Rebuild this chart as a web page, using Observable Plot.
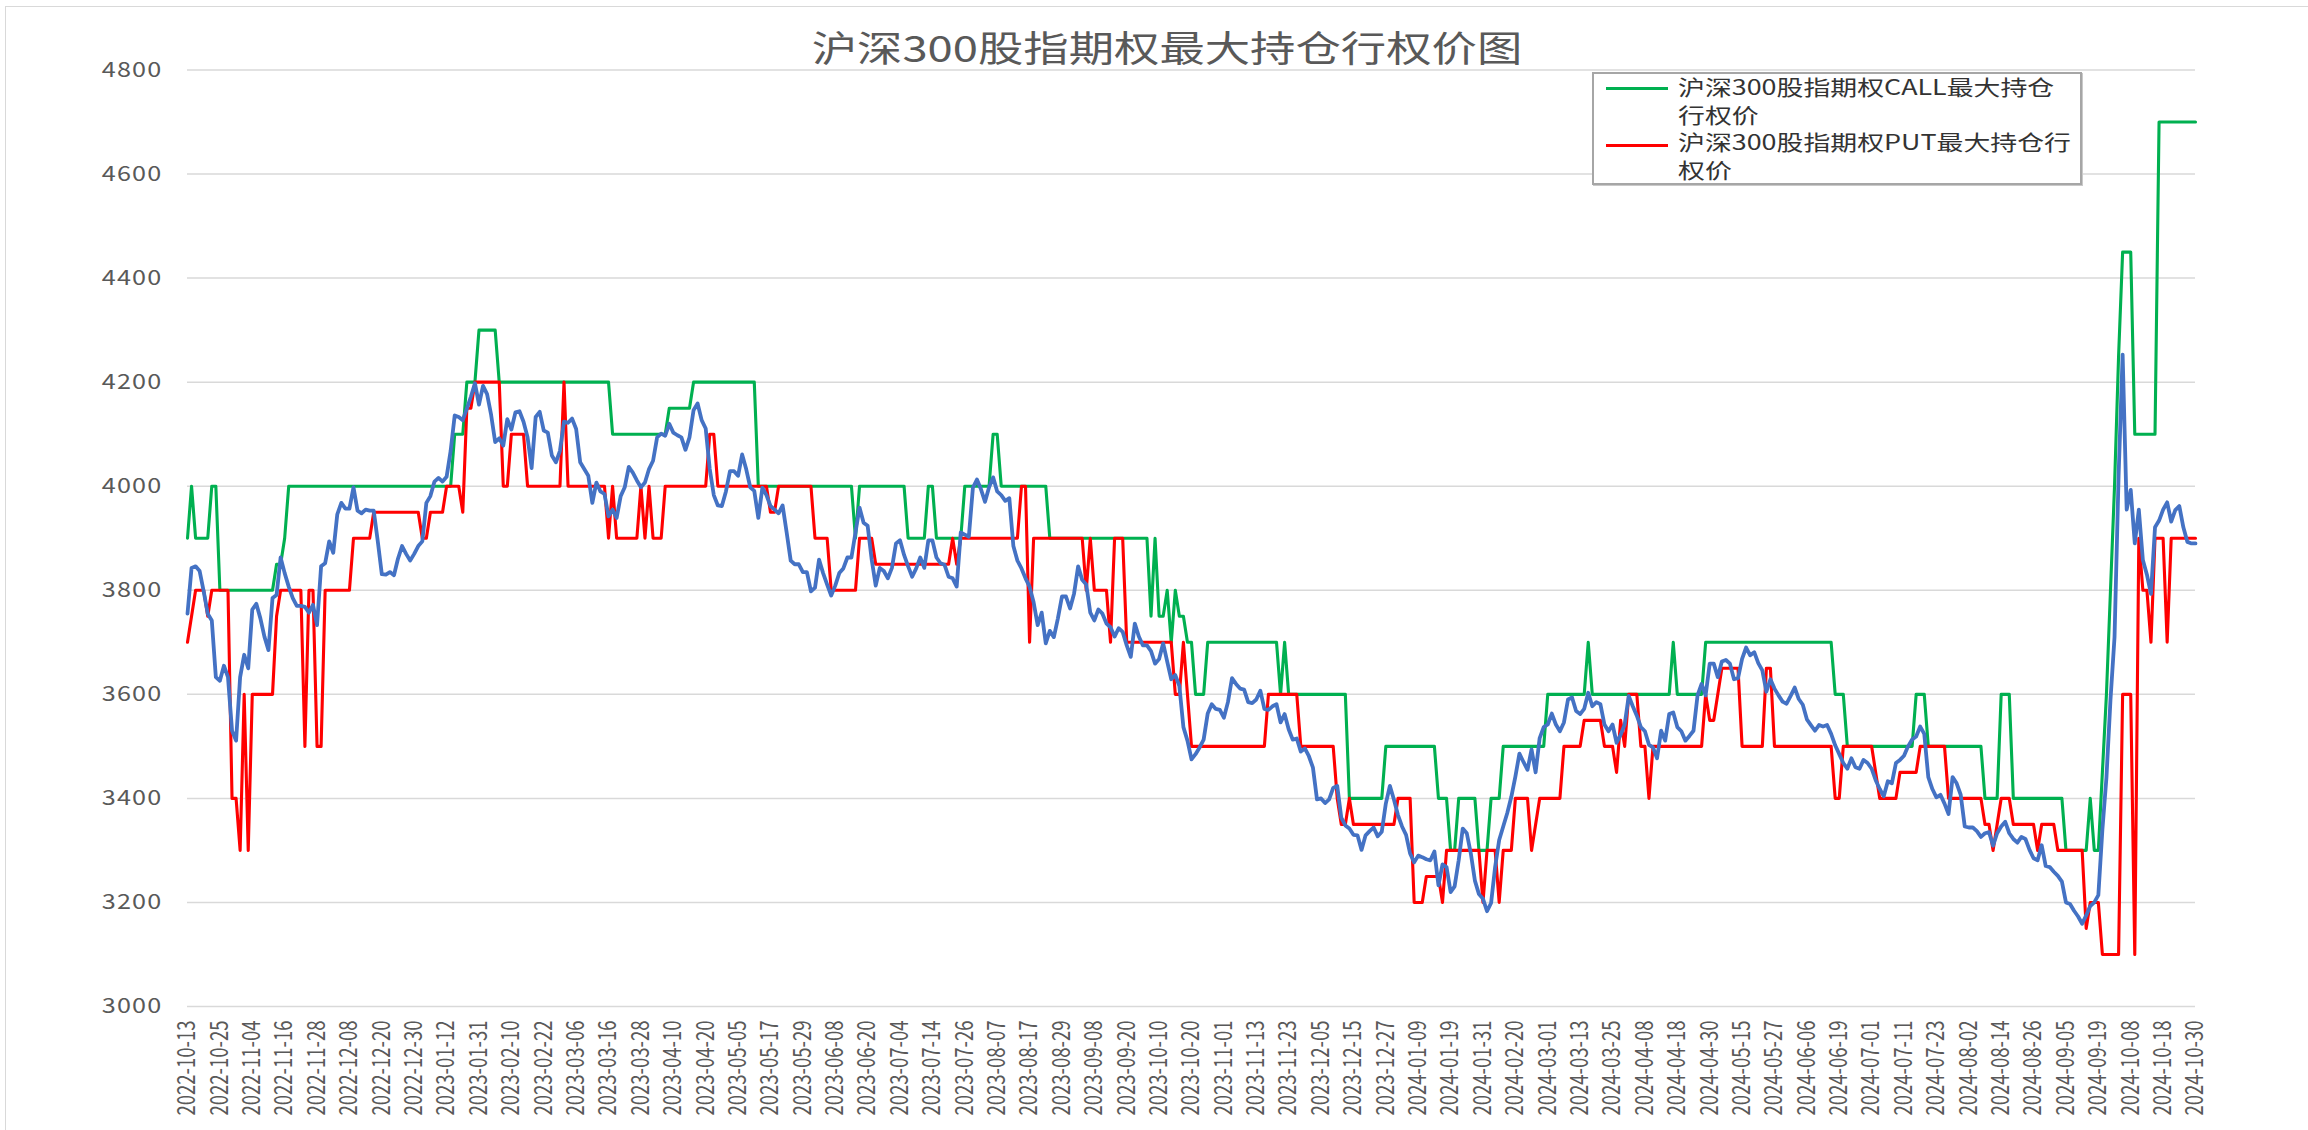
<!DOCTYPE html>
<html>
<head>
<meta charset="utf-8">
<script src="https://cdn.jsdelivr.net/npm/d3@7"></script>
<script src="https://cdn.jsdelivr.net/npm/@observablehq/plot@0.6"></script>
<style>
  html, body { margin: 0; padding: 0; background: #ffffff; }
  #wrap { position: relative; width: 2308px; height: 1130px; overflow: hidden; background: #ffffff;
          font-family: "Noto Sans CJK SC", "Noto Sans", sans-serif; }
  #chart { position: absolute; left: 0; top: 0; }
  #title { position: absolute; left: 567px; top: 24px; width: 1200px; text-align: center;
           font-size: 36px; line-height: 44px; color: #595959; transform: scaleX(1.26); transform-origin: 50% 50%;
           white-space: nowrap; }
  #legend { position: absolute; left: 1592px; top: 72px; width: 490px; height: 113px; box-sizing: border-box;
            border: 2px solid #a6a6a6; box-shadow: 1px 1px 0 #c9c9c9; background: #ffffff; overflow: hidden; }
  .sw { position: absolute; left: 12px; width: 62px; height: 3px; }
  .lt { position: absolute; left: 84px; font-size: 21px; line-height: 25px; color: #333333; white-space: nowrap;
        transform: scaleX(1.28); transform-origin: 0 50%; }
  #frame { position: absolute; left: 5px; top: 6px; width: 2400px; height: 1200px; border-top: 1.5px solid #d9d9d9; border-left: 1.5px solid #d9d9d9; }
</style>
</head>
<body>
<div id="wrap">
  <div id="frame"></div>
  <div id="chart"></div>
  <div id="title"></div>
  <div id="legend"></div>
</div>
<script>
// ---------- data ----------
const titleText = "沪深300股指期权最大持仓行权价图";
const callName = ["沪深300股指期权CALL最大持仓", "行权价"];
const putName = ["沪深300股指期权PUT最大持仓行", "权价"];

// x-axis labels: one every 8 trading days
const tickLabels = ["2022-10-13","2022-10-25","2022-11-04","2022-11-16","2022-11-28","2022-12-08","2022-12-20","2022-12-30",
"2023-01-12","2023-01-31","2023-02-10","2023-02-22","2023-03-06","2023-03-16","2023-03-28","2023-04-10","2023-04-20",
"2023-05-05","2023-05-17","2023-05-29","2023-06-08","2023-06-20","2023-07-04","2023-07-14","2023-07-26","2023-08-07",
"2023-08-17","2023-08-29","2023-09-08","2023-09-20","2023-10-10","2023-10-20","2023-11-01","2023-11-13","2023-11-23",
"2023-12-05","2023-12-15","2023-12-27","2024-01-09","2024-01-19","2024-01-31","2024-02-20","2024-03-01","2024-03-13",
"2024-03-25","2024-04-08","2024-04-18","2024-04-30","2024-05-15","2024-05-27","2024-06-06","2024-06-19","2024-07-01",
"2024-07-11","2024-07-23","2024-08-02","2024-08-14","2024-08-26","2024-09-05","2024-09-19","2024-10-08","2024-10-18","2024-10-30"];

const yTicks = [3000,3200,3400,3600,3800,4000,4200,4400,4600,4800];

// CALL max-open-interest strike, as runs [strike, number of trading days]
const callRuns = [[3900,1],[4000,1],[3900,4],[4000,2],[3800,14],[3850,2],[3900,1],[4000,41],[4100,3],[4200,3],[4300,5],
[4200,28],[4100,14],[4150,6],[4200,16],[4000,24],[3900,1],[4000,12],[3900,5],[4000,2],[3900,7],[4000,7],[4100,2],[4000,12],
[3900,25],[3750,1],[3900,1],[3750,2],[3800,1],[3700,1],[3800,1],[3750,2],[3700,2],[3600,3],[3700,18],[3600,1],[3700,1],
[3600,15],[3400,9],[3500,13],[3400,3],[3300,2],[3400,5],[3300,3],[3400,3],[3500,11],[3600,10],[3700,1],[3600,20],[3700,1],
[3600,7],[3700,32],[3600,3],[3500,17],[3600,3],[3500,14],[3400,4],[3600,3],[3400,13],[3300,6],[3400,1],[3300,2],[3450,1],
[3600,1],[3800,1],[4000,1],[4250,1],[4450,3],[4100,6],[4700,10]];

// PUT max-open-interest strike, as runs [strike, number of trading days]
const putRuns = [[3700,1],[3750,1],[3800,3],[3750,1],[3800,5],[3400,2],[3300,1],[3600,1],[3300,1],[3600,6],[3750,1],[3800,6],
[3500,1],[3800,2],[3500,2],[3800,7],[3900,5],[3950,12],[3900,2],[3950,4],[4000,4],[3950,1],[4150,2],[4200,7],[4000,2],[4100,4],
[4000,9],[4200,1],[4000,10],[3900,1],[4000,1],[3900,6],[4000,1],[3900,1],[4000,1],[3900,3],[4000,11],[4100,2],[4000,13],
[3950,2],[4000,9],[3900,4],[3800,7],[3900,4],[3850,19],[3900,1],[3850,1],[3900,15],[4000,2],[3700,1],[3900,13],[3800,1],
[3900,1],[3800,4],[3700,1],[3900,3],[3700,12],[3600,2],[3700,1],[3600,1],[3500,19],[3600,8],[3500,9],[3400,1],[3350,2],
[3400,1],[3350,11],[3400,4],[3200,3],[3250,4],[3200,1],[3300,9],[3200,1],[3300,3],[3200,1],[3300,3],[3400,4],[3300,1],
[3350,1],[3400,6],[3500,5],[3550,5],[3500,3],[3450,1],[3550,1],[3500,1],[3600,3],[3500,2],[3400,1],[3500,13],[3600,1],
[3550,2],[3600,1],[3650,5],[3500,6],[3650,2],[3500,15],[3400,2],[3500,8],[3450,1],[3400,5],[3450,5],[3500,7],[3400,9],
[3350,2],[3300,1],[3350,1],[3400,3],[3350,6],[3300,1],[3350,4],[3300,7],[3150,1],[3200,3],[3100,5],[3600,3],[3100,1],
[3900,1],[3800,2],[3700,1],[3900,3],[3700,1],[3900,7]];

// CSI 300 index close (blue, one value per trading day)
const indexClose = [
3755,3843,3846,3837,3798,3755,3742,3633,3626,3655,
3633,3530,3511,3633,3676,3650,3763,3774,3746,3711,
3685,3785,3791,3863,3833,3807,3785,3770,3770,3768,
3757,3772,3733,3846,3852,3894,3872,3946,3968,3957,
3957,3998,3953,3948,3955,3953,3953,3894,3831,3830,
3835,3829,3861,3885,3870,3857,3870,3885,3894,3968,
3981,4009,4016,4009,4018,4068,4136,4133,4127,4149,
4172,4198,4157,4193,4177,4137,4085,4092,4078,4129,
4109,4142,4144,4124,4094,4035,4133,4143,4107,4103,
4059,4046,4068,4124,4122,4130,4110,4046,4033,4020,
3968,4007,3990,3985,3942,3955,3939,3981,3998,4037,
4026,4011,3998,4007,4033,4049,4094,4101,4097,4120,
4103,4098,4094,4070,4094,4146,4159,4127,4111,4033,
3983,3963,3962,3990,4029,4029,4020,4061,4033,3998,
3991,3939,3997,3983,3962,3955,3948,3963,3911,3857,
3850,3850,3835,3835,3798,3805,3859,3833,3811,3790,
3809,3833,3842,3863,3863,3911,3959,3930,3924,3859,
3809,3843,3837,3823,3843,3890,3896,3868,3846,3826,
3842,3863,3843,3896,3896,3863,3852,3849,3826,3823,
3807,3911,3907,3903,3997,4013,3994,3970,3998,4017,
3990,3983,3972,3977,3885,3857,3842,3823,3807,3777,
3733,3757,3698,3722,3710,3746,3788,3788,3765,3794,
3846,3820,3811,3757,3742,3763,3755,3736,3729,3711,
3727,3720,3694,3672,3736,3711,3694,3694,3683,3659,
3668,3698,3663,3629,3637,3616,3537,3511,3475,3485,
3498,3513,3563,3581,3572,3570,3555,3585,3631,3620,
3611,3609,3585,3583,3590,3607,3572,3570,3577,3581,
3546,3562,3533,3513,3515,3490,3496,3481,3459,3398,
3400,3391,3398,3420,3424,3363,3348,3342,3330,3329,
3301,3329,3337,3344,3327,3336,3390,3424,3398,3368,
3346,3330,3294,3277,3290,3287,3283,3281,3298,3233,
3273,3268,3220,3231,3281,3342,3333,3294,3242,3216,
3207,3183,3199,3268,3320,3346,3372,3403,3442,3486,
3470,3455,3494,3450,3516,3537,3542,3563,3542,3529,
3546,3590,3594,3568,3562,3572,3603,3577,3585,3581,
3542,3529,3542,3507,3522,3542,3597,3577,3559,3537,
3529,3503,3498,3477,3530,3511,3562,3565,3537,3529,
3511,3520,3530,3598,3620,3598,3659,3659,3633,3663,
3666,3659,3629,3631,3668,3690,3675,3681,3660,3646,
3605,3629,3611,3598,3586,3582,3597,3613,3591,3580,
3552,3541,3530,3541,3538,3541,3524,3502,3485,3468,
3457,3477,3460,3457,3474,3468,3457,3435,3418,3404,
3433,3429,3468,3474,3482,3500,3513,3519,3538,3524,
3441,3418,3402,3407,3390,3370,3441,3429,3407,3346,
3344,3344,3337,3326,3333,3335,3309,3333,3346,3355,
3333,3322,3315,3326,3322,3301,3285,3281,3310,3270,
3268,3259,3251,3240,3200,3197,3184,3173,3159,3175,
3193,3200,3214,3340,3440,3590,3710,4020,4253,3955,
3993,3890,3955,3858,3830,3793,3921,3934,3955,3969,
3932,3954,3962,3921,3893,3890,3890];

// ---------- build ----------
function expandRuns(runs) {
  const out = [];
  for (const [v, n] of runs) for (let k = 0; k < n; k++) out.push(v);
  return out;
}
const callStrike = expandRuns(callRuns);
const putStrike = expandRuns(putRuns);
const rows = indexClose.map((c, i) => ({i, call: callStrike[i], put: putStrike[i], close: c}));
const lastIdx = indexClose.length - 1;
const xTicks = tickLabels.map((d, k) => k * 8);
const FONT = '"Noto Sans CJK SC", "Noto Sans", sans-serif';

const chart = Plot.plot({
  width: 2308,
  height: 1130,
  marginLeft: 187,
  marginRight: 113,
  marginTop: 69.5,
  marginBottom: 124,
  style: {background: "transparent", fontFamily: FONT, color: "#595959", overflow: "visible"},
  x: {type: "linear", domain: [0, lastIdx]},
  y: {domain: [3000, 4800]},
  marks: [
    Plot.gridY(yTicks, {stroke: "#d9d9d9", strokeOpacity: 1, strokeWidth: 1.5}),
    Plot.axisY(yTicks, {tickSize: 0, tickPadding: 25, fontSize: 21, fill: "#595959", label: null,
                        tickFormat: d => String(d)}),
    Plot.axisX(xTicks, {tickSize: 0, tickPadding: 14, tickRotate: -90, fontSize: 18.5, fill: "#595959", label: null,
                        tickFormat: i => tickLabels[i / 8]}),
    Plot.line(rows, {x: "i", y: "call", stroke: "#00b050", strokeWidth: 3.1, strokeLinejoin: "round"}),
    Plot.line(rows, {x: "i", y: "put", stroke: "#ff0000", strokeWidth: 3.1, strokeLinejoin: "round"}),
    Plot.line(rows, {x: "i", y: "close", stroke: "#4472c4", strokeWidth: 3.8, strokeLinejoin: "round"})
  ]
});
document.getElementById("chart").appendChild(chart);

// the reference's glyphs are horizontally stretched
d3.select(chart).selectAll('g[aria-label="y-axis tick label"] text').each(function() {
  const t = this.getAttribute("transform") || "";
  this.setAttribute("transform", t + " scale(1.2,1)");
  this.style.letterSpacing = "1px";
});
d3.select(chart).selectAll('g[aria-label="x-axis tick label"] text').each(function() {
  const t = this.getAttribute("transform") || "";
  this.setAttribute("transform", t + " scale(1,1.32)");
});

// title
document.getElementById("title").textContent = titleText;

// legend
const legend = document.getElementById("legend");
function addSwatch(color, top) {
  const s = document.createElement("div");
  s.className = "sw"; s.style.background = color; s.style.top = top + "px";
  legend.appendChild(s);
}
function addText(text, top) {
  const t = document.createElement("div");
  t.className = "lt"; t.textContent = text; t.style.top = top + "px";
  legend.appendChild(t);
}
addSwatch("#00b050", 12.5);
addText(callName[0], 0);
addText(callName[1], 27.5);
addSwatch("#ff0000", 69.5);
addText(putName[0], 55);
addText(putName[1], 82.5);
</script>
</body>
</html>
